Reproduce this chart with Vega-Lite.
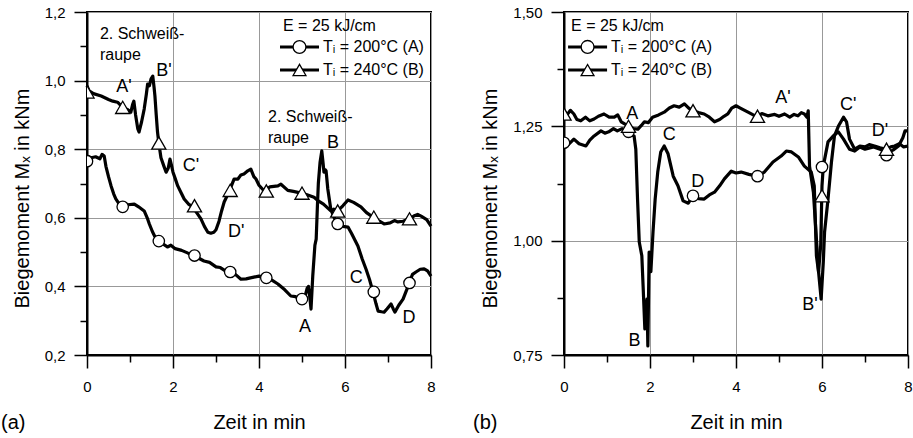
{
"$schema": "https://vega.github.io/schema/vega-lite/v6.json",
"padding": {"left": 0, "top": 4, "right": 0, "bottom": 0},
"bounds": "flush",
"spacing": 133,
"config": {"font": "Liberation Sans", "view": {"stroke": "black", "strokeWidth": 2}, "title": {"fontSize": 20, "fontWeight": "normal", "color": "black"}},
"datasets": {
"gA": [{"s":"A","t":4.942,"m":1.098,"label":"Tᵢ = 200°C (A)"},{"s":"B","t":4.942,"m":1.031,"label":"Tᵢ = 240°C (B)"}],
"gB": [{"s":"A","t":0.548,"m":1.4236,"label":"Tᵢ = 200°C (A)"},{"s":"B","t":0.548,"m":1.373,"label":"Tᵢ = 240°C (B)"}],
"lA": [
{"t":0.0,"m":0.78,"s":"A"},{"t":0.1,"m":0.775,"s":"A"},{"t":0.2,"m":0.778,"s":"A"},{"t":0.3,"m":0.772,"s":"A"},{"t":0.35,"m":0.785,"s":"A"},{"t":0.4,"m":0.78,"s":"A"},{"t":0.44,"m":0.75,"s":"A"},{"t":0.5,"m":0.72,"s":"A"},{"t":0.56,"m":0.693,"s":"A"},{"t":0.62,"m":0.67,"s":"A"},{"t":0.67,"m":0.655,"s":"A"},{"t":0.75,"m":0.64,"s":"A"},{"t":0.85,"m":0.632,"s":"A"},{"t":0.95,"m":0.638,"s":"A"},{"t":1.1,"m":0.64,"s":"A"},{"t":1.2,"m":0.632,"s":"A"},{"t":1.33,"m":0.62,"s":"A"},{"t":1.4,"m":0.6,"s":"A"},{"t":1.45,"m":0.582,"s":"A"},{"t":1.52,"m":0.56,"s":"A"},{"t":1.58,"m":0.545,"s":"A"},{"t":1.65,"m":0.532,"s":"A"},{"t":1.75,"m":0.525,"s":"A"},{"t":1.87,"m":0.515,"s":"A"},{"t":1.95,"m":0.52,"s":"A"},{"t":2.05,"m":0.51,"s":"A"},{"t":2.2,"m":0.505,"s":"A"},{"t":2.35,"m":0.497,"s":"A"},{"t":2.5,"m":0.49,"s":"A"},{"t":2.6,"m":0.482,"s":"A"},{"t":2.72,"m":0.474,"s":"A"},{"t":2.85,"m":0.47,"s":"A"},{"t":3.0,"m":0.457,"s":"A"},{"t":3.1,"m":0.455,"s":"A"},{"t":3.2,"m":0.447,"s":"A"},{"t":3.33,"m":0.442,"s":"A"},{"t":3.45,"m":0.435,"s":"A"},{"t":3.58,"m":0.421,"s":"A"},{"t":3.7,"m":0.422,"s":"A"},{"t":3.8,"m":0.425,"s":"A"},{"t":3.88,"m":0.427,"s":"A"},{"t":4.0,"m":0.43,"s":"A"},{"t":4.15,"m":0.425,"s":"A"},{"t":4.3,"m":0.418,"s":"A"},{"t":4.44,"m":0.407,"s":"A"},{"t":4.6,"m":0.39,"s":"A"},{"t":4.74,"m":0.372,"s":"A"},{"t":4.85,"m":0.37,"s":"A"},{"t":4.98,"m":0.363,"s":"A"},{"t":5.08,"m":0.375,"s":"A"},{"t":5.12,"m":0.395,"s":"A"},{"t":5.15,"m":0.4,"s":"A"},{"t":5.18,"m":0.37,"s":"A"},{"t":5.21,"m":0.334,"s":"A"},{"t":5.25,"m":0.43,"s":"A"},{"t":5.3,"m":0.52,"s":"A"},{"t":5.33,"m":0.538,"s":"A"},{"t":5.36,"m":0.64,"s":"A"},{"t":5.38,"m":0.7,"s":"A"},{"t":5.42,"m":0.762,"s":"A"},{"t":5.46,"m":0.795,"s":"A"},{"t":5.49,"m":0.76,"s":"A"},{"t":5.51,"m":0.733,"s":"A"},{"t":5.54,"m":0.74,"s":"A"},{"t":5.56,"m":0.737,"s":"A"},{"t":5.6,"m":0.684,"s":"A"},{"t":5.67,"m":0.625,"s":"A"},{"t":5.75,"m":0.6,"s":"A"},{"t":5.83,"m":0.582,"s":"A"},{"t":5.95,"m":0.575,"s":"A"},{"t":6.07,"m":0.573,"s":"A"},{"t":6.15,"m":0.555,"s":"A"},{"t":6.3,"m":0.518,"s":"A"},{"t":6.4,"m":0.48,"s":"A"},{"t":6.49,"m":0.45,"s":"A"},{"t":6.57,"m":0.42,"s":"A"},{"t":6.65,"m":0.384,"s":"A"},{"t":6.72,"m":0.35,"s":"A"},{"t":6.77,"m":0.328,"s":"A"},{"t":6.85,"m":0.326,"s":"A"},{"t":6.91,"m":0.325,"s":"A"},{"t":6.98,"m":0.335,"s":"A"},{"t":7.07,"m":0.349,"s":"A"},{"t":7.12,"m":0.335,"s":"A"},{"t":7.16,"m":0.325,"s":"A"},{"t":7.25,"m":0.345,"s":"A"},{"t":7.35,"m":0.363,"s":"A"},{"t":7.45,"m":0.395,"s":"A"},{"t":7.49,"m":0.41,"s":"A"},{"t":7.57,"m":0.435,"s":"A"},{"t":7.65,"m":0.442,"s":"A"},{"t":7.75,"m":0.45,"s":"A"},{"t":7.84,"m":0.451,"s":"A"},{"t":7.92,"m":0.445,"s":"A"},{"t":8.0,"m":0.43,"s":"A"},
{"t":0.0,"m":0.985,"s":"B"},{"t":0.05,"m":0.97,"s":"B"},{"t":0.15,"m":0.962,"s":"B"},{"t":0.33,"m":0.955,"s":"B"},{"t":0.5,"m":0.945,"s":"B"},{"t":0.6,"m":0.94,"s":"B"},{"t":0.71,"m":0.937,"s":"B"},{"t":0.83,"m":0.922,"s":"B"},{"t":0.95,"m":0.915,"s":"B"},{"t":1.02,"m":0.908,"s":"B"},{"t":1.06,"m":0.93,"s":"B"},{"t":1.09,"m":0.94,"s":"B"},{"t":1.13,"m":0.9,"s":"B"},{"t":1.18,"m":0.86,"s":"B"},{"t":1.21,"m":0.85,"s":"B"},{"t":1.27,"m":0.88,"s":"B"},{"t":1.33,"m":0.917,"s":"B"},{"t":1.38,"m":0.96,"s":"B"},{"t":1.41,"m":0.99,"s":"B"},{"t":1.45,"m":0.985,"s":"B"},{"t":1.49,"m":1.005,"s":"B"},{"t":1.53,"m":1.013,"s":"B"},{"t":1.56,"m":0.98,"s":"B"},{"t":1.58,"m":0.955,"s":"B"},{"t":1.61,"m":0.9,"s":"B"},{"t":1.64,"m":0.85,"s":"B"},{"t":1.67,"m":0.818,"s":"B"},{"t":1.72,"m":0.775,"s":"B"},{"t":1.79,"m":0.75,"s":"B"},{"t":1.84,"m":0.733,"s":"B"},{"t":1.89,"m":0.745,"s":"B"},{"t":1.93,"m":0.771,"s":"B"},{"t":1.97,"m":0.75,"s":"B"},{"t":2.0,"m":0.733,"s":"B"},{"t":2.05,"m":0.715,"s":"B"},{"t":2.11,"m":0.693,"s":"B"},{"t":2.2,"m":0.67,"s":"B"},{"t":2.26,"m":0.655,"s":"B"},{"t":2.36,"m":0.64,"s":"B"},{"t":2.46,"m":0.632,"s":"B"},{"t":2.55,"m":0.615,"s":"B"},{"t":2.65,"m":0.597,"s":"B"},{"t":2.73,"m":0.575,"s":"B"},{"t":2.81,"m":0.558,"s":"B"},{"t":2.88,"m":0.555,"s":"B"},{"t":2.95,"m":0.558,"s":"B"},{"t":3.0,"m":0.565,"s":"B"},{"t":3.07,"m":0.59,"s":"B"},{"t":3.13,"m":0.62,"s":"B"},{"t":3.19,"m":0.646,"s":"B"},{"t":3.3,"m":0.675,"s":"B"},{"t":3.42,"m":0.713,"s":"B"},{"t":3.51,"m":0.713,"s":"B"},{"t":3.58,"m":0.725,"s":"B"},{"t":3.65,"m":0.728,"s":"B"},{"t":3.74,"m":0.737,"s":"B"},{"t":3.81,"m":0.742,"s":"B"},{"t":3.88,"m":0.72,"s":"B"},{"t":3.93,"m":0.713,"s":"B"},{"t":4.0,"m":0.695,"s":"B"},{"t":4.12,"m":0.678,"s":"B"},{"t":4.25,"m":0.69,"s":"B"},{"t":4.44,"m":0.693,"s":"B"},{"t":4.51,"m":0.698,"s":"B"},{"t":4.67,"m":0.68,"s":"B"},{"t":4.8,"m":0.677,"s":"B"},{"t":4.98,"m":0.672,"s":"B"},{"t":5.1,"m":0.668,"s":"B"},{"t":5.28,"m":0.66,"s":"B"},{"t":5.37,"m":0.65,"s":"B"},{"t":5.5,"m":0.64,"s":"B"},{"t":5.67,"m":0.62,"s":"B"},{"t":5.74,"m":0.625,"s":"B"},{"t":5.83,"m":0.62,"s":"B"},{"t":5.95,"m":0.635,"s":"B"},{"t":6.07,"m":0.652,"s":"B"},{"t":6.2,"m":0.645,"s":"B"},{"t":6.37,"m":0.632,"s":"B"},{"t":6.5,"m":0.615,"s":"B"},{"t":6.65,"m":0.602,"s":"B"},{"t":6.8,"m":0.59,"s":"B"},{"t":6.91,"m":0.582,"s":"B"},{"t":7.05,"m":0.585,"s":"B"},{"t":7.15,"m":0.592,"s":"B"},{"t":7.23,"m":0.588,"s":"B"},{"t":7.35,"m":0.59,"s":"B"},{"t":7.5,"m":0.597,"s":"B"},{"t":7.6,"m":0.605,"s":"B"},{"t":7.69,"m":0.61,"s":"B"},{"t":7.77,"m":0.605,"s":"B"},{"t":7.9,"m":0.595,"s":"B"},{"t":8.0,"m":0.576,"s":"B"}
],
"mA": [
{"t":0,"m":0.765,"s":"A"},{"t":0.83,"m":0.632,"s":"A"},{"t":1.67,"m":0.532,"s":"A"},{"t":2.5,"m":0.49,"s":"A"},{"t":3.33,"m":0.442,"s":"A"},{"t":4.17,"m":0.425,"s":"A"},{"t":5.0,"m":0.363,"s":"A"},{"t":5.83,"m":0.582,"s":"A"},{"t":6.67,"m":0.384,"s":"A"},{"t":7.5,"m":0.41,"s":"A"},
{"t":0,"m":0.967,"s":"B"},{"t":0.83,"m":0.922,"s":"B"},{"t":1.67,"m":0.818,"s":"B"},{"t":2.5,"m":0.635,"s":"B"},{"t":3.33,"m":0.68,"s":"B"},{"t":4.17,"m":0.678,"s":"B"},{"t":5.0,"m":0.672,"s":"B"},{"t":5.83,"m":0.62,"s":"B"},{"t":6.67,"m":0.602,"s":"B"},{"t":7.5,"m":0.597,"s":"B"}
],
"tA": [
{"t":0.86,"m":0.981,"label":"A'"},{"t":1.79,"m":1.028,"label":"B'"},{"t":2.42,"m":0.751,"label":"C'"},{"t":3.47,"m":0.559,"label":"D'"},{"t":5.72,"m":0.818,"label":"B"},{"t":5.07,"m":0.282,"label":"A"},{"t":6.26,"m":0.424,"label":"C"},{"t":7.49,"m":0.308,"label":"D"}
],
"nA": [
{"t":0.3,"m":1.159,"label":"2. Schweiß-\nraupe"},{"t":4.21,"m":0.917,"label":"2. Schweiß-\nraupe"},{"t":4.558,"m":1.1825,"label":"E = 25 kJ/cm"}
],
"nB": [
{"t":0.163,"m":1.487,"label":"E = 25 kJ/cm"}
],
"lB": [
{"t":0.0,"m":1.216,"s":"A"},{"t":0.1,"m":1.21,"s":"A"},{"t":0.23,"m":1.222,"s":"A"},{"t":0.35,"m":1.212,"s":"A"},{"t":0.51,"m":1.207,"s":"A"},{"t":0.6,"m":1.22,"s":"A"},{"t":0.7,"m":1.229,"s":"A"},{"t":0.86,"m":1.24,"s":"A"},{"t":0.95,"m":1.235,"s":"A"},{"t":1.04,"m":1.238,"s":"A"},{"t":1.15,"m":1.245,"s":"A"},{"t":1.24,"m":1.24,"s":"A"},{"t":1.35,"m":1.245,"s":"A"},{"t":1.5,"m":1.238,"s":"A"},{"t":1.6,"m":1.23,"s":"A"},{"t":1.63,"m":1.229,"s":"A"},{"t":1.67,"m":1.2,"s":"A"},{"t":1.71,"m":1.091,"s":"A"},{"t":1.75,"m":0.997,"s":"A"},{"t":1.81,"m":0.967,"s":"A"},{"t":1.84,"m":0.9,"s":"A"},{"t":1.88,"m":0.807,"s":"A"},{"t":1.93,"m":0.872,"s":"A"},{"t":1.95,"m":0.77,"s":"A"},{"t":1.98,"m":0.975,"s":"A"},{"t":2.02,"m":0.932,"s":"A"},{"t":2.07,"m":1.019,"s":"A"},{"t":2.12,"m":1.091,"s":"A"},{"t":2.18,"m":1.15,"s":"A"},{"t":2.25,"m":1.194,"s":"A"},{"t":2.33,"m":1.207,"s":"A"},{"t":2.42,"m":1.19,"s":"A"},{"t":2.54,"m":1.141,"s":"A"},{"t":2.65,"m":1.12,"s":"A"},{"t":2.77,"m":1.087,"s":"A"},{"t":2.89,"m":1.082,"s":"A"},{"t":3.0,"m":1.098,"s":"A"},{"t":3.13,"m":1.092,"s":"A"},{"t":3.26,"m":1.091,"s":"A"},{"t":3.38,"m":1.1,"s":"A"},{"t":3.5,"m":1.106,"s":"A"},{"t":3.62,"m":1.12,"s":"A"},{"t":3.73,"m":1.135,"s":"A"},{"t":3.89,"m":1.152,"s":"A"},{"t":4.0,"m":1.148,"s":"A"},{"t":4.12,"m":1.15,"s":"A"},{"t":4.3,"m":1.145,"s":"A"},{"t":4.49,"m":1.141,"s":"A"},{"t":4.66,"m":1.15,"s":"A"},{"t":4.86,"m":1.172,"s":"A"},{"t":5.05,"m":1.185,"s":"A"},{"t":5.17,"m":1.196,"s":"A"},{"t":5.29,"m":1.194,"s":"A"},{"t":5.45,"m":1.183,"s":"A"},{"t":5.59,"m":1.163,"s":"A"},{"t":5.75,"m":1.15,"s":"A"},{"t":5.82,"m":1.12,"s":"A"},{"t":5.87,"m":0.967,"s":"A"},{"t":5.92,"m":0.932,"s":"A"},{"t":5.97,"m":0.99,"s":"A"},{"t":6.0,"m":1.12,"s":"A"},{"t":6.03,"m":1.163,"s":"A"},{"t":6.14,"m":1.216,"s":"A"},{"t":6.26,"m":1.229,"s":"A"},{"t":6.38,"m":1.238,"s":"A"},{"t":6.5,"m":1.222,"s":"A"},{"t":6.64,"m":1.2,"s":"A"},{"t":6.76,"m":1.196,"s":"A"},{"t":6.88,"m":1.205,"s":"A"},{"t":7.0,"m":1.2,"s":"A"},{"t":7.2,"m":1.205,"s":"A"},{"t":7.35,"m":1.2,"s":"A"},{"t":7.5,"m":1.192,"s":"A"},{"t":7.65,"m":1.198,"s":"A"},{"t":7.78,"m":1.207,"s":"A"},{"t":7.88,"m":1.225,"s":"A"},{"t":7.93,"m":1.24,"s":"A"},{"t":8.0,"m":1.24,"s":"A"},
{"t":0.0,"m":1.284,"s":"B"},{"t":0.07,"m":1.275,"s":"B"},{"t":0.15,"m":1.285,"s":"B"},{"t":0.23,"m":1.277,"s":"B"},{"t":0.3,"m":1.265,"s":"B"},{"t":0.39,"m":1.262,"s":"B"},{"t":0.5,"m":1.27,"s":"B"},{"t":0.6,"m":1.262,"s":"B"},{"t":0.7,"m":1.266,"s":"B"},{"t":0.8,"m":1.272,"s":"B"},{"t":0.93,"m":1.277,"s":"B"},{"t":1.05,"m":1.27,"s":"B"},{"t":1.17,"m":1.27,"s":"B"},{"t":1.25,"m":1.275,"s":"B"},{"t":1.33,"m":1.26,"s":"B"},{"t":1.42,"m":1.255,"s":"B"},{"t":1.52,"m":1.25,"s":"B"},{"t":1.62,"m":1.245,"s":"B"},{"t":1.72,"m":1.244,"s":"B"},{"t":1.8,"m":1.252,"s":"B"},{"t":1.87,"m":1.26,"s":"B"},{"t":1.96,"m":1.258,"s":"B"},{"t":2.06,"m":1.27,"s":"B"},{"t":2.2,"m":1.275,"s":"B"},{"t":2.33,"m":1.281,"s":"B"},{"t":2.45,"m":1.29,"s":"B"},{"t":2.56,"m":1.295,"s":"B"},{"t":2.68,"m":1.292,"s":"B"},{"t":2.8,"m":1.299,"s":"B"},{"t":2.9,"m":1.29,"s":"B"},{"t":3.0,"m":1.284,"s":"B"},{"t":3.13,"m":1.28,"s":"B"},{"t":3.26,"m":1.277,"s":"B"},{"t":3.38,"m":1.27,"s":"B"},{"t":3.5,"m":1.26,"s":"B"},{"t":3.62,"m":1.265,"s":"B"},{"t":3.72,"m":1.272,"s":"B"},{"t":3.81,"m":1.277,"s":"B"},{"t":3.9,"m":1.29,"s":"B"},{"t":4.0,"m":1.295,"s":"B"},{"t":4.1,"m":1.29,"s":"B"},{"t":4.28,"m":1.281,"s":"B"},{"t":4.4,"m":1.275,"s":"B"},{"t":4.49,"m":1.272,"s":"B"},{"t":4.6,"m":1.278,"s":"B"},{"t":4.74,"m":1.273,"s":"B"},{"t":4.9,"m":1.276,"s":"B"},{"t":5.0,"m":1.272,"s":"B"},{"t":5.13,"m":1.277,"s":"B"},{"t":5.25,"m":1.27,"s":"B"},{"t":5.35,"m":1.276,"s":"B"},{"t":5.44,"m":1.273,"s":"B"},{"t":5.52,"m":1.28,"s":"B"},{"t":5.59,"m":1.277,"s":"B"},{"t":5.65,"m":1.27,"s":"B"},{"t":5.68,"m":1.284,"s":"B"},{"t":5.71,"m":1.163,"s":"B"},{"t":5.8,"m":1.106,"s":"B"},{"t":5.87,"m":1.004,"s":"B"},{"t":5.92,"m":0.932,"s":"B"},{"t":5.98,"m":0.872,"s":"B"},{"t":6.03,"m":0.953,"s":"B"},{"t":6.06,"m":1.019,"s":"B"},{"t":6.14,"m":1.091,"s":"B"},{"t":6.22,"m":1.172,"s":"B"},{"t":6.29,"m":1.229,"s":"B"},{"t":6.38,"m":1.25,"s":"B"},{"t":6.5,"m":1.27,"s":"B"},{"t":6.57,"m":1.26,"s":"B"},{"t":6.64,"m":1.222,"s":"B"},{"t":6.76,"m":1.2,"s":"B"},{"t":6.88,"m":1.207,"s":"B"},{"t":7.0,"m":1.205,"s":"B"},{"t":7.1,"m":1.21,"s":"B"},{"t":7.22,"m":1.207,"s":"B"},{"t":7.35,"m":1.203,"s":"B"},{"t":7.49,"m":1.2,"s":"B"},{"t":7.6,"m":1.205,"s":"B"},{"t":7.69,"m":1.207,"s":"B"},{"t":7.8,"m":1.212,"s":"B"},{"t":7.9,"m":1.205,"s":"B"},{"t":8.0,"m":1.207,"s":"B"}
],
"mB": [
{"t":0,"m":1.214,"s":"A"},{"t":1.5,"m":1.238,"s":"A"},{"t":3.0,"m":1.098,"s":"A"},{"t":4.5,"m":1.141,"s":"A"},{"t":6.0,"m":1.161,"s":"A"},{"t":7.5,"m":1.187,"s":"A"},
{"t":0,"m":1.277,"s":"B"},{"t":1.5,"m":1.25,"s":"B"},{"t":3.0,"m":1.284,"s":"B"},{"t":4.5,"m":1.272,"s":"B"},{"t":6.0,"m":1.098,"s":"B"},{"t":7.5,"m":1.2,"s":"B"}
],
"tB": [
{"t":1.59,"m":1.277,"label":"A"},{"t":2.45,"m":1.23,"label":"C"},{"t":3.11,"m":1.129,"label":"D"},{"t":5.09,"m":1.311,"label":"A'"},{"t":6.61,"m":1.297,"label":"C'"},{"t":7.35,"m":1.24,"label":"D'"},{"t":1.64,"m":0.781,"label":"B"},{"t":5.72,"m":0.859,"label":"B'"}
]
},
"hconcat": [
{
"width": 344, "height": 343,
"title": {"text": "(a)", "orient": "bottom", "anchor": "start", "frame": "group", "dx": -86, "offset": -19, "baseline": "top"},
"encoding": {
"x": {"field": "t", "type": "quantitative", "scale": {"domain": [0, 8], "nice": false, "zero": false},
 "axis": {"values": [0,1,2,3,4,5,6,7,8], "title": "Zeit in min", "titleFontSize": 20, "titleFontWeight": "normal", "titleColor": "black", "titlePadding": 18,
 "labelExpr": "datum.value % 2 === 0 ? format(datum.value, 'd') : ''", "labelFontSize": 15, "labelColor": "black", "labelPadding": 11, "labelFlush": false, "labelOverlap": false,
 "tickSize": {"condition": {"test": "datum.value % 2 === 0", "value": 13}, "value": 7}, "tickColor": "black", "tickWidth": 1.5,
 "grid": true, "gridColor": "#999999", "gridWidth": 1, "gridOpacity": {"condition": {"test": "datum.value % 2 === 0", "value": 1}, "value": 0},
 "domainColor": "black", "domainWidth": 2}},
"y": {"field": "m", "type": "quantitative", "scale": {"domain": [0.2, 1.2], "nice": false, "zero": false},
 "axis": {"values": [0.2,0.3,0.4,0.5,0.6,0.7,0.8,0.9,1.0,1.1,1.2], "title": "Biegemoment Mₓ in kNm", "titleFontSize": 20, "titleFontWeight": "normal", "titleColor": "black", "titlePadding": 12, "titleY": 186,
 "labelExpr": "abs(datum.value*5 - round(datum.value*5)) < 0.001 ? replace(format(datum.value, '.1f'), '.', ',') : ''", "labelFontSize": 15, "labelColor": "black", "labelPadding": 9, "labelFlush": false, "labelOverlap": false,
 "tickSize": {"condition": {"test": "abs(datum.value*5 - round(datum.value*5)) < 0.001", "value": 13}, "value": 7}, "tickColor": "black", "tickWidth": 1.5,
 "grid": true, "gridColor": "#999999", "gridWidth": 1, "gridOpacity": {"condition": {"test": "abs(datum.value*5 - round(datum.value*5)) < 0.001", "value": 1}, "value": 0},
 "domainColor": "black", "domainWidth": 2}}
},
"layer": [
{"data": {"name": "lA"}, "mark": {"type": "line", "color": "black", "strokeWidth": 3.2, "strokeJoin": "round"}, "encoding": {"detail": {"field": "s"}}},
{"data": {"name": "mA"}, "transform": [{"filter": "datum.s === 'A'"}], "mark": {"type": "point", "shape": "circle", "fill": "white", "stroke": "black", "strokeWidth": 1.3, "opacity": 1, "fillOpacity": 1, "size": 130, "clip": true}},
{"data": {"name": "mA"}, "transform": [{"filter": "datum.s === 'B'"}], "mark": {"type": "point", "shape": "triangle-up", "fill": "white", "stroke": "black", "strokeWidth": 1.3, "opacity": 1, "fillOpacity": 1, "size": 200, "clip": true}},
{"data": {"name": "gA"}, "mark": {"type": "rule", "color": "black", "strokeWidth": 3, "xOffset": -19.5, "x2Offset": 19.5}, "encoding": {"x2": {"field": "t"}}},
{"data": {"name": "gA"}, "mark": {"type": "point", "fill": "white", "stroke": "black", "strokeWidth": 1.3, "opacity": 1, "fillOpacity": 1, "size": 165},
 "encoding": {"shape": {"field": "s", "type": "nominal", "scale": {"domain": ["A", "B"], "range": ["circle", "triangle-up"]}, "legend": null}}},
{"data": {"name": "gA"}, "mark": {"type": "text", "fontSize": 16, "color": "black", "align": "left", "baseline": "middle", "dx": 23.5}, "encoding": {"text": {"field": "label"}}},
{"data": {"name": "tA"}, "mark": {"type": "text", "fontSize": 18, "color": "black", "align": "center", "baseline": "middle"}, "encoding": {"text": {"field": "label"}}},
{"data": {"name": "nA"}, "mark": {"type": "text", "fontSize": 16, "color": "black", "align": "left", "baseline": "top", "lineBreak": "\n", "lineHeight": 21}, "encoding": {"text": {"field": "label"}}}
]
},
{
"width": 344, "height": 343,
"title": {"text": "(b)", "orient": "bottom", "anchor": "start", "frame": "group", "dx": -91, "offset": -19, "baseline": "top"},
"encoding": {
"x": {"field": "t", "type": "quantitative", "scale": {"domain": [0, 8], "nice": false, "zero": false},
 "axis": {"values": [0,1,2,3,4,5,6,7,8], "title": "Zeit in min", "titleFontSize": 20, "titleFontWeight": "normal", "titleColor": "black", "titlePadding": 18,
 "labelExpr": "datum.value % 2 === 0 ? format(datum.value, 'd') : ''", "labelFontSize": 15, "labelColor": "black", "labelPadding": 11, "labelFlush": false, "labelOverlap": false,
 "tickSize": {"condition": {"test": "datum.value % 2 === 0", "value": 13}, "value": 7}, "tickColor": "black", "tickWidth": 1.5,
 "grid": true, "gridColor": "#999999", "gridWidth": 1, "gridOpacity": {"condition": {"test": "datum.value % 2 === 0", "value": 1}, "value": 0},
 "domainColor": "black", "domainWidth": 2}},
"y": {"field": "m", "type": "quantitative", "scale": {"domain": [0.75, 1.5], "nice": false, "zero": false},
 "axis": {"values": [0.75,0.875,1.0,1.125,1.25,1.375,1.5], "title": "Biegemoment Mₓ in kNm", "titleFontSize": 20, "titleFontWeight": "normal", "titleColor": "black", "titlePadding": 12, "titleY": 186,
 "labelExpr": "abs(datum.value*4 - round(datum.value*4)) < 0.001 ? replace(format(datum.value, '.2f'), '.', ',') : ''", "labelFontSize": 15, "labelColor": "black", "labelPadding": 9, "labelFlush": false, "labelOverlap": false,
 "tickSize": {"condition": {"test": "abs(datum.value*4 - round(datum.value*4)) < 0.001", "value": 13}, "value": 7}, "tickColor": "black", "tickWidth": 1.5,
 "grid": true, "gridColor": "#999999", "gridWidth": 1, "gridOpacity": {"condition": {"test": "abs(datum.value*4 - round(datum.value*4)) < 0.001", "value": 1}, "value": 0},
 "domainColor": "black", "domainWidth": 2}}
},
"layer": [
{"data": {"name": "lB"}, "mark": {"type": "line", "color": "black", "strokeWidth": 3.2, "strokeJoin": "round"}, "encoding": {"detail": {"field": "s"}}},
{"data": {"name": "mB"}, "transform": [{"filter": "datum.s === 'A'"}], "mark": {"type": "point", "shape": "circle", "fill": "white", "stroke": "black", "strokeWidth": 1.3, "opacity": 1, "fillOpacity": 1, "size": 130, "clip": true}},
{"data": {"name": "mB"}, "transform": [{"filter": "datum.s === 'B'"}], "mark": {"type": "point", "shape": "triangle-up", "fill": "white", "stroke": "black", "strokeWidth": 1.3, "opacity": 1, "fillOpacity": 1, "size": 200, "clip": true}},
{"data": {"name": "gB"}, "mark": {"type": "rule", "color": "black", "strokeWidth": 3, "xOffset": -19.5, "x2Offset": 19.5}, "encoding": {"x2": {"field": "t"}}},
{"data": {"name": "gB"}, "mark": {"type": "point", "fill": "white", "stroke": "black", "strokeWidth": 1.3, "opacity": 1, "fillOpacity": 1, "size": 165},
 "encoding": {"shape": {"field": "s", "type": "nominal", "scale": {"domain": ["A", "B"], "range": ["circle", "triangle-up"]}, "legend": null}}},
{"data": {"name": "gB"}, "mark": {"type": "text", "fontSize": 16, "color": "black", "align": "left", "baseline": "middle", "dx": 23.5}, "encoding": {"text": {"field": "label"}}},
{"data": {"name": "tB"}, "mark": {"type": "text", "fontSize": 18, "color": "black", "align": "center", "baseline": "middle"}, "encoding": {"text": {"field": "label"}}},
{"data": {"name": "nB"}, "mark": {"type": "text", "fontSize": 16, "color": "black", "align": "left", "baseline": "top"}, "encoding": {"text": {"field": "label"}}}
]
}
]
}
